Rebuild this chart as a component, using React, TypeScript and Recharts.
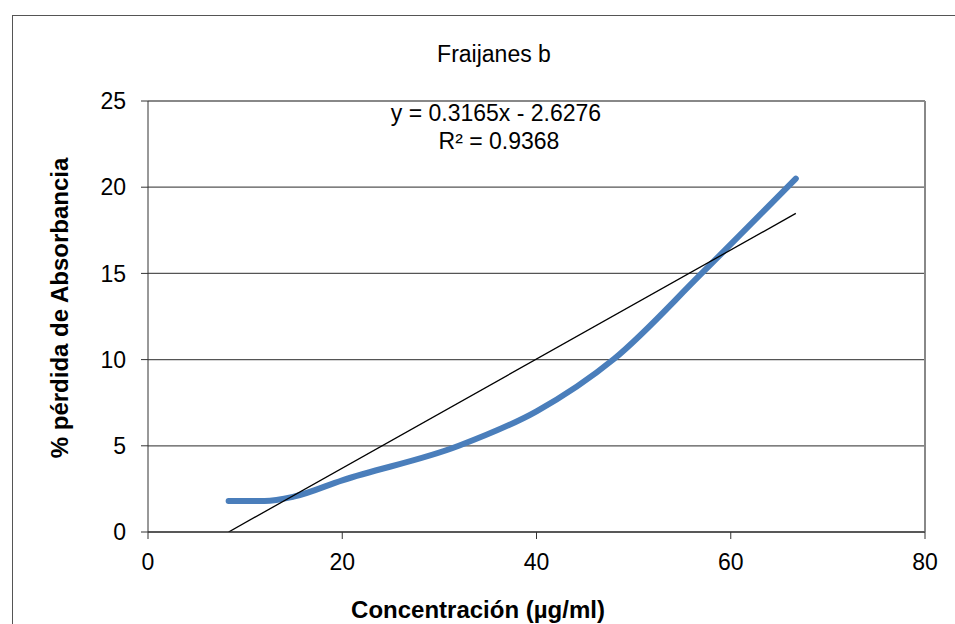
import { LineChart, CartesianGrid, XAxis, YAxis, Line, ReferenceLine } from 'recharts'

// concentración (µg/ml) y % pérdida de absorbancia
const concentration = [8.3, 12, 15, 20, 32, 40, 48, 57, 66.7]
const absorbanceLoss = [1.8, 1.8, 2.05, 3.0, 5.0, 7.0, 10.05, 15.0, 20.5]

// extremos de la línea de tendencia
const trendX = [8.3, 66.7]
const trendY = [0.0, 18.48]

const xTicks = [0, 20, 40, 60, 80]
const yTicks = [0, 5, 10, 15, 20, 25]

const title = 'Fraijanes b'
const equation = 'y = 0.3165x - 2.6276'
const rSquared = 'R² = 0.9368'
const xLabel = 'Concentración (µg/ml)'
const yLabel = '% pérdida de Absorbancia'

const FONT = '"Liberation Sans", Arial, sans-serif'

const seriesData = concentration.map((x, i) => ({ x, y: absorbanceLoss[i] }))
const trendData = trendX.map((x, i) => ({ x, y: trendY[i] }))

const tickStyle = { fontFamily: FONT, fontSize: 23, fill: '#000' }

export default function App() {
  return (
    <div style={{ position: 'absolute', left: 0, top: 0, width: 955, height: 624, overflow: 'hidden', background: '#fff' }}>
      <div
        style={{
          position: 'absolute',
          left: 12,
          top: 15,
          width: 980,
          height: 640,
          border: '1.5px solid #555',
        }}
      />
      <div style={{ position: 'absolute', left: 0, top: 0 }}>
        <LineChart width={955} height={624} margin={{ top: 101, right: 30, left: 0, bottom: 0 }}>
          <CartesianGrid horizontal vertical={false} stroke="#555" strokeWidth={1.3} />
          <XAxis
            type="number"
            dataKey="x"
            domain={[0, 80]}
            ticks={xTicks}
            height={92}
            tickSize={7}
            tickMargin={15}
            tick={tickStyle}
            stroke="#333"
            allowDataOverflow
          />
          <YAxis
            type="number"
            dataKey="y"
            domain={[0, 25]}
            ticks={yTicks}
            width={148}
            tickSize={7}
            tickMargin={15}
            tick={tickStyle}
            stroke="#333"
            allowDataOverflow
          />
          <ReferenceLine y={25} stroke="#888" strokeWidth={2} />
          <ReferenceLine x={80} stroke="#888" strokeWidth={2} />
          <Line
            data={seriesData}
            dataKey="y"
            type="monotone"
            stroke="#4A7EBB"
            strokeWidth={6}
            strokeLinecap="round"
            dot={false}
            activeDot={false}
            isAnimationActive={false}
          />
          <Line
            data={trendData}
            dataKey="y"
            type="linear"
            stroke="#000"
            strokeWidth={1.3}
            dot={false}
            activeDot={false}
            isAnimationActive={false}
          />
          <text x={494} y={62} textAnchor="middle" fontFamily={FONT} fontSize={23} fill="#000">
            {title}
          </text>
          <text x={496} y={121} textAnchor="middle" fontFamily={FONT} fontSize={23} fill="#000">
            {equation}
          </text>
          <text x={499} y={149} textAnchor="middle" fontFamily={FONT} fontSize={23} fill="#000">
            {rSquared}
          </text>
          <text x={478} y={618} textAnchor="middle" fontFamily={FONT} fontSize={24} fontWeight="bold" fill="#000">
            {xLabel}
          </text>
          <text
            x={68}
            y={308}
            transform="rotate(-90, 68, 308)"
            textAnchor="middle"
            fontFamily={FONT}
            fontSize={24}
            fontWeight="bold"
            fill="#000"
          >
            {yLabel}
          </text>
        </LineChart>
      </div>
    </div>
  )
}
